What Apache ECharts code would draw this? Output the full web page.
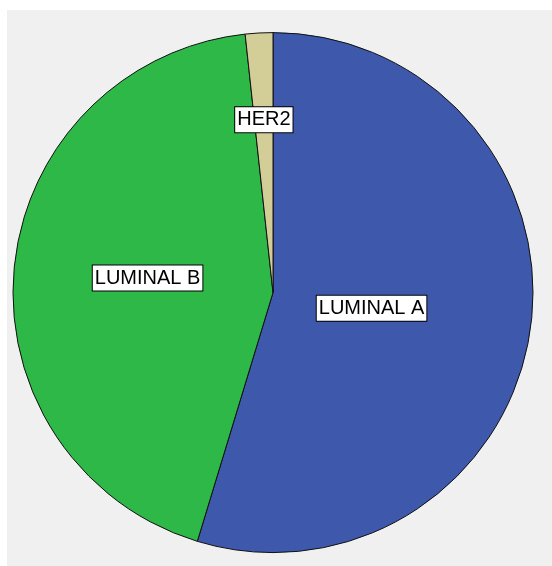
<!DOCTYPE html>
<html>
<head>
<meta charset="utf-8">
<script src="https://cdn.jsdelivr.net/npm/echarts@6/dist/echarts.min.js"></script>
<style>
  html, body { margin: 0; padding: 0; background: #ffffff; }
  #chart { width: 552px; height: 566px; }
</style>
</head>
<body>
<div id="chart"></div>
<script>
// Subtype counts
const categories = ['LUMINAL A', 'LUMINAL B', 'HER2'];
const counts = [64, 51, 2];
const sliceColors = ['#3E58AC', '#2EB848', '#D3CE97'];

// Nudges for the boxed labels, relative to the default inside spot
const labelShift = [[-33, -4], [7, -2], [-2, -40]];

const chart = echarts.init(document.getElementById('chart'), null, { renderer: 'canvas' });

chart.setOption({
  animation: false,
  backgroundColor: '#ffffff',
  graphic: [{
    type: 'rect',
    left: 7,
    top: 10,
    shape: { width: 545, height: 556 },
    style: { fill: '#f0f0f0' },
    silent: true,
    z: -10
  }],
  series: [{
    type: 'pie',
    center: [273, 292.6],
    radius: [0, 260],
    startAngle: 90,
    clockwise: true,
    avoidLabelOverlap: false,
    emphasis: { disabled: true },
    itemStyle: { borderColor: '#111111', borderWidth: 1 },
    label: {
      show: true,
      position: 'inside',
      formatter: '{b}',
      color: '#000000',
      fontFamily: '"Liberation Sans", Arial, sans-serif',
      fontSize: 20,
      backgroundColor: '#ffffff',
      borderColor: '#000000',
      borderWidth: 1,
      padding: [3, 2, 2, 2]
    },
    labelLine: { show: false },
    labelLayout: function (params) {
      const s = labelShift[params.dataIndex];
      return { dx: s[0], dy: s[1] };
    },
    data: categories.map(function (name, i) {
      return { name: name, value: counts[i], itemStyle: { color: sliceColors[i] } };
    })
  }]
});
</script>
</body>
</html>
